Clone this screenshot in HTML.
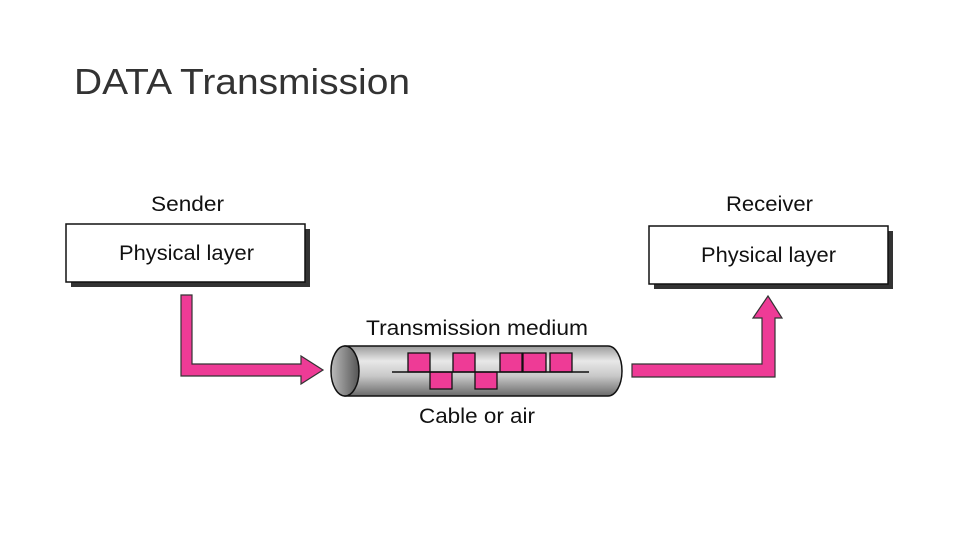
<!DOCTYPE html>
<html><head><style>
body{margin:0;width:960px;height:540px;background:#fff;overflow:hidden;font-family:"Liberation Sans",sans-serif}
</style></head><body>
<svg width="960" height="540" xmlns="http://www.w3.org/2000/svg" font-family="Liberation Sans, sans-serif">
<defs>
<linearGradient id="g" x1="0" y1="0" x2="0" y2="1">
<stop offset="0" stop-color="#9a9a9a"/><stop offset="0.3" stop-color="#e8e8e8"/><stop offset="0.6" stop-color="#c8c8c8"/><stop offset="1" stop-color="#6a6a6a"/></linearGradient>
<linearGradient id="g2" x1="0" y1="0" x2="1" y2="0">
<stop offset="0" stop-color="#bbb"/><stop offset="1" stop-color="#555"/></linearGradient>
</defs>
<text x="74" y="94" font-size="36" fill="#333" textLength="336" lengthAdjust="spacingAndGlyphs">DATA Transmission</text>
<text x="151" y="211" font-size="21" fill="#111" textLength="73" lengthAdjust="spacingAndGlyphs">Sender</text>
<text x="726" y="211" font-size="21" fill="#111" textLength="87" lengthAdjust="spacingAndGlyphs">Receiver</text>
<rect x="71" y="229" width="239" height="58" fill="#333"/>
<rect x="66" y="224" width="239" height="58" fill="#fff" stroke="#111" stroke-width="1.5"/>
<text x="119" y="260" font-size="21" fill="#111" textLength="135" lengthAdjust="spacingAndGlyphs">Physical layer</text>
<rect x="654" y="231" width="239" height="58" fill="#333"/>
<rect x="649" y="226" width="239" height="58" fill="#fff" stroke="#111" stroke-width="1.5"/>
<text x="701" y="262" font-size="21" fill="#111" textLength="135" lengthAdjust="spacingAndGlyphs">Physical layer</text>
<path d="M181 295 H192 V364 H301 V356 L323 370 L301 384 V376 H181 Z" fill="#ee3b96" stroke="#333" stroke-width="1.2"/>
<path d="M632 364 H762 V318 H753 L768 296 L782 318 H775 V377 H632 Z" fill="#ee3b96" stroke="#333" stroke-width="1.2"/>
<text x="366" y="335" font-size="21" fill="#111" textLength="222" lengthAdjust="spacingAndGlyphs">Transmission medium</text>
<text x="419" y="423" font-size="21" fill="#111" textLength="116" lengthAdjust="spacingAndGlyphs">Cable or air</text>
<path d="M345 346 H608 A14 25 0 0 1 608 396 H345 Z" fill="url(#g)" stroke="#111" stroke-width="1.5"/>
<ellipse cx="345" cy="371" rx="14" ry="25" fill="url(#g2)" stroke="#111" stroke-width="1.5"/>
<g fill="#ee3b96" stroke="#111" stroke-width="1.3">
<rect x="408" y="353" width="22" height="19"/>
<rect x="453" y="353" width="22" height="19"/>
<rect x="500" y="353" width="22" height="19"/>
<rect x="523" y="353" width="23" height="19"/>
<rect x="550" y="353" width="22" height="19"/>
<rect x="430" y="372" width="22" height="17"/>
<rect x="475" y="372" width="22" height="17"/>
</g>
<line x1="392" y1="372" x2="589" y2="372" stroke="#111" stroke-width="1.5"/>
</svg>
</body></html>
